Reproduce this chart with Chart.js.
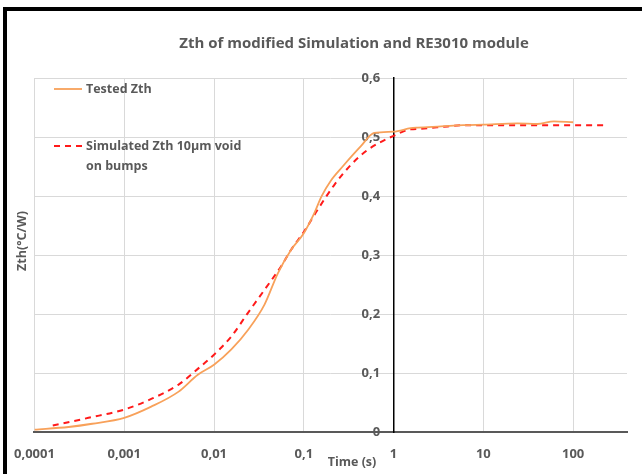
<!DOCTYPE html>
<html lang="en">
<head>
    <meta charset="UTF-8">
    <title>Zth of modified Simulation and RE3010 module</title>
    <script src="https://cdn.jsdelivr.net/npm/chart.js"></script>
    <style>
        html, body { margin: 0; padding: 0; background: #fff; overflow: hidden; }
        .frame {
            position: absolute; left: 3px; top: 7px; width: 700px; height: 480px;
            border-left: 4px solid #000; border-top: 4px solid #000;
        }
        #zthChart { position: absolute; left: 0; top: 0; }
    </style>
</head>
<body>
    <div class="frame"></div>
    <canvas id="zthChart" width="642" height="474"></canvas>

    <script>
        // data
        const timeTested = [0.0001, 0.00024, 0.00044, 0.001, 0.002, 0.004, 0.0066, 0.01, 0.0156, 0.0239, 0.0365, 0.0514, 0.0723, 0.1, 0.131, 0.157, 0.2, 0.271, 0.43, 0.61, 1, 1.55, 1.85, 3.4, 6, 10, 24, 40, 61, 100];
        const zthTested = [0.004, 0.0085, 0.014, 0.024, 0.043, 0.068, 0.097, 0.114, 0.14, 0.173, 0.216, 0.269, 0.309, 0.337, 0.371, 0.399, 0.426, 0.45, 0.484, 0.507, 0.509, 0.515, 0.516, 0.518, 0.520, 0.521, 0.523, 0.522, 0.5265, 0.525];

        const timeSim = [0.00016, 0.0004, 0.001, 0.002, 0.004, 0.0066, 0.01, 0.0156, 0.0239, 0.0365, 0.056, 0.0723, 0.1, 0.143, 0.219, 0.336, 0.514, 1, 1.55, 2, 4, 6, 10, 100, 245];
        const zthSim = [0.011, 0.024, 0.038, 0.056, 0.080, 0.107, 0.131, 0.162, 0.202, 0.241, 0.281, 0.309, 0.339, 0.377, 0.419, 0.453, 0.478, 0.502, 0.513, 0.514, 0.518, 0.520, 0.520, 0.520, 0.520];

        const xTicks = [0.0001, 0.001, 0.01, 0.1, 1, 10, 100];
        const xTickLabels = ['0,0001', '0,001', '0,01', '0,1', '1', '10', '100'];
        const seriesNames = ['Tested Zth', 'Simulated Zth 10µm void', 'on bumps'];

        const textGray = '#595959';
        const fontFam = "'Open Sans', sans-serif";
        const orange = '#F8A15A';
        const red = '#FF1A1A';

        // titles + legend, drawn onto the canvas
        const extras = {
            id: 'extras',
            afterDraw(chart) {
                const c = chart.ctx;
                c.save();
                c.fillStyle = textGray;
                c.textBaseline = 'middle';

                c.font = 'bold 15px ' + fontFam;
                c.textAlign = 'center';
                c.fillText('Zth of modified Simulation and RE3010 module', 354, 44);

                c.font = 'bold 12.5px ' + fontFam;
                c.fillText('Time (s)', 352, 462);

                c.save();
                c.translate(22, 241);
                c.rotate(-Math.PI / 2);
                c.fillText('Zth(°C/W)', 0, 0);
                c.restore();

                // legend
                c.textAlign = 'left';
                c.strokeStyle = orange;
                c.lineWidth = 1.8;
                c.beginPath(); c.moveTo(54, 89); c.lineTo(82, 89); c.stroke();
                c.fillText(seriesNames[0], 86, 89);

                c.strokeStyle = red;
                c.lineWidth = 2;
                c.setLineDash([6, 5]);
                c.beginPath(); c.moveTo(54, 146); c.lineTo(82, 146); c.stroke();
                c.setLineDash([]);
                c.fillText(seriesNames[1], 86, 146);
                c.fillText(seriesNames[2], 86, 166);
                c.restore();
            }
        };

        new Chart(document.getElementById('zthChart'), {
            type: 'line',
            data: {
                datasets: [
                    {
                        label: seriesNames[0],
                        data: timeTested.map((t, i) => ({ x: t, y: zthTested[i] })),
                        borderColor: orange,
                        borderWidth: 1.8,
                        pointRadius: 0,
                        cubicInterpolationMode: 'monotone'
                    },
                    {
                        label: seriesNames[1] + ' ' + seriesNames[2],
                        data: timeSim.map((t, i) => ({ x: t, y: zthSim[i] })),
                        borderColor: red,
                        borderWidth: 2,
                        borderDash: [6, 5],
                        pointRadius: 0,
                        cubicInterpolationMode: 'monotone'
                    }
                ]
            },
            options: {
                responsive: false,
                animation: false,
                layout: { padding: { left: 33, right: 15, top: 78, bottom: 0 } },
                plugins: {
                    legend: { display: false },
                    title: { display: false },
                    tooltip: { enabled: false }
                },
                scales: {
                    x: {
                        type: 'logarithmic',
                        min: 0.0001,
                        max: 398,
                        afterBuildTicks: s => { s.ticks = xTicks.map(v => ({ value: v })); },
                        afterFit: s => { s.height = 42; },
                        grid: { color: '#D9D9D9', lineWidth: 1, drawTicks: false },
                        border: { color: '#595959', width: 2 },
                        ticks: {
                            autoSkip: false,
                            maxRotation: 0,
                            padding: 14,
                            color: textGray,
                            font: { family: fontFam, size: 13, weight: 'bold' },
                            callback: (v, i) => xTickLabels[i]
                        }
                    },
                    y: {
                        position: { x: 1 },
                        min: 0,
                        max: 0.6,
                        grid: { color: '#D9D9D9', lineWidth: 1, drawTicks: false },
                        border: { color: '#000', width: 1.5 },
                        ticks: {
                            stepSize: 0.1,
                            color: textGray,
                            font: { family: fontFam, size: 13, weight: 'bold' },
                            callback: v => (v === 0 ? '0' : v.toFixed(1).replace('.', ',')) + '    '
                        }
                    }
                }
            },
            plugins: [extras]
        });
    </script>
</body>
</html>
